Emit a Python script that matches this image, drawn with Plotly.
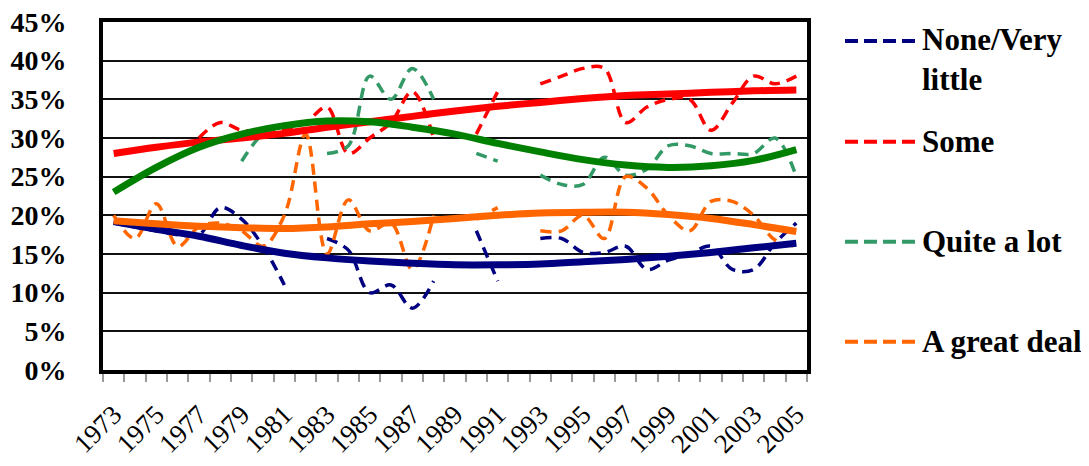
import plotly.graph_objects as go

years = list(range(1973, 2006))

# survey values (%), None = no survey that year
none_little = [19, 18.5, 18, 17.5, 17.5, 21, 19.5, 16, 11, None, 17, 15.5, 10, 11, 8, 11.5, None,
               18, 11.5, None, 17, 17, 15.2, 15.2, 16, 13, 14.2, 15, 16, 13, 13, 16.4, 19]
some = [None, None, None, None, 30, 32, 31, 31, 31, 32, 34, 28, 30, 32, 36, 30, None,
        30.5, 36, None, 37, 38, 39, 39, 32, 34, 35, 35, 31, 34.5, 38, 37, 38]
quite_a_lot = [None, None, None, None, None, None, 27, 30.5, 31.5, None, 28, 29, 38, 35, 39, 35, None,
               28, 27, None, 25.2, 24, 24, 27.5, 25.2, 26, 29, 29, 28, 28, 28, 30, 25]
great_deal = [20, 17, 21.5, 16, 18.5, 19, 18, 16, 20, 30.5, 15, 22, 18, 19, 13, 20, None,
              19.5, 21, None, 18, 18, 20, 17, 25, 23.5, 20, 18, 21.8, 21.8, 20, 16.8, 16]

# trend lines
trend_years = [1973, 1975, 1977, 1979, 1981, 1983, 1985, 1987, 1989, 1991, 1993, 1995, 1997, 1999, 2001, 2003, 2005]
trend_none = [19.2, 18.2, 17.3, 16.1, 15.1, 14.5, 14.1, 13.8, 13.6, 13.6, 13.7, 14.0, 14.3, 14.7, 15.2, 15.8, 16.4]
trend_some = [28.0, 28.8, 29.5, 30.0, 30.6, 31.4, 32.1, 32.8, 33.5, 34.1, 34.6, 35.1, 35.5, 35.7, 35.9, 36.1, 36.2]
trend_quite = [23.0, 26.2, 28.8, 30.5, 31.6, 32.2, 32.1, 31.4, 30.5, 29.3, 28.2, 27.2, 26.5, 26.2, 26.4, 27.1, 28.5]
trend_great = [19.3, 18.9, 18.6, 18.4, 18.3, 18.5, 18.9, 19.2, 19.6, 20.0, 20.3, 20.4, 20.4, 20.1, 19.6, 18.8, 17.9]

tick_years = list(range(1973, 2006, 2))

series = [
    ("None/Very<br>little", none_little, "#000080"),
    ("Some", some, "#FF0000"),
    ("Quite a lot", quite_a_lot, "#339966"),
    ("A great deal", great_deal, "#FF6600"),
]
trends = [
    (trend_none, "#000080"),
    (trend_some, "#FF0000"),
    (trend_quite, "#008000"),
    (trend_great, "#FF6600"),
]

SERIF = "Liberation Serif, Times New Roman, Times, serif"

fig = go.Figure()

for name, vals, col in series:
    fig.add_trace(go.Scatter(
        x=years, y=vals, mode="lines", name=name, showlegend=False,
        line=dict(color=col, width=3.5, dash="11px,7px", shape="spline", smoothing=1),
        connectgaps=False,
    ))

for vals, col in trends:
    fig.add_trace(go.Scatter(
        x=trend_years, y=vals, mode="lines", showlegend=False, hoverinfo="skip",
        line=dict(color=col, width=7, shape="spline", smoothing=1),
    ))

# page body has an 8px margin, so the figure is 8px smaller each way
OFF = 8
L, W, T, H = 103, 704, 22, 348
def px(x):
    return (x - L) / W
def py(y):
    return (T + H - y) / H

# hand-made legend on the right (long dashed swatches like the original)
legend_rows = [(41, 59.5), (141.7, 141.7), (241.7, 241.7), (341.7, 341.7)]
for (name, vals, col), (ly, ty) in zip(series, legend_rows):
    fig.add_shape(type="line", xref="paper", yref="paper",
                  x0=px(845), x1=px(915), y0=py(ly), y1=py(ly),
                  line=dict(color=col, width=4, dash="13px,6px"))
    fig.add_annotation(text=name, xref="paper", yref="paper", x=px(920), y=py(ty),
                       xanchor="left", yanchor="middle", align="left", showarrow=False,
                       font=dict(family=SERIF, size=31, color="black", weight="bold"))

fig.update_layout(
    width=1089 - OFF, height=466 - OFF,
    margin=dict(l=L - OFF, r=1089 - L - W, t=T - OFF, b=466 - T - H),
    plot_bgcolor="white", paper_bgcolor="white",
    showlegend=False,
    font=dict(family=SERIF, color="black"),
)

fig.update_xaxes(
    range=[1972.5, 2005.5], automargin=False, ticklabeloverflow="allow",
    tickmode="array", tickvals=tick_years, ticktext=[str(y) for y in tick_years],
    tickangle=-45, ticks="", ticklabelstandoff=14,
    tickfont=dict(family=SERIF, size=27),
    minor=dict(ticks="outside", tickmode="linear", tick0=1972.5, dtick=1,
               ticklen=8, tickwidth=1.5, tickcolor="#999", showgrid=False),
    showgrid=False, zeroline=False,
    showline=True, linewidth=4, linecolor="black", mirror=True,
)
fig.update_yaxes(
    range=[0, 45], dtick=5, ticksuffix="%", ticks="", automargin=False,
    ticklabeloverflow="allow",
    tickfont=dict(family=SERIF, size=28, weight="bold"),
    ticklabelstandoff=27,
    showgrid=True, gridcolor="#111", gridwidth=2, zeroline=False,
    showline=True, linewidth=4, linecolor="black", mirror=True,
)

fig.write_html("out.html")
